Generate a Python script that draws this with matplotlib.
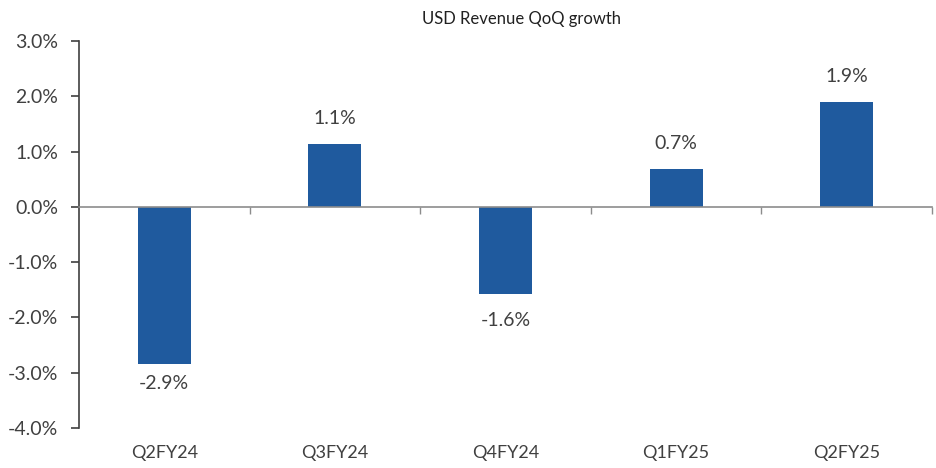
import matplotlib
matplotlib.use("Agg")
import matplotlib.pyplot as plt
from matplotlib.ticker import FuncFormatter

categories = ["Q2FY24", "Q3FY24", "Q4FY24", "Q1FY25", "Q2FY25"]
values = [-2.85, 1.14, -1.57, 0.69, 1.90]
labels = ["-2.9%", "1.1%", "-1.6%", "0.7%", "1.9%"]
yticks = [-4, -3, -2, -1, 0, 1, 2, 3]
title = "USD Revenue QoQ growth"

plt.rcParams['font.family'] = ['Lato', 'DejaVu Sans']
txt = '#404040'
bar_color = '#1F5A9E'
# label offsets (points) as placed in the original
label_offsets = [-14, 18, -19.5, 18, 18.5]

fig = plt.figure(figsize=(9.36, 4.68), dpi=100)
ax = fig.add_axes([79/936, 1-428/468, (932-79)/936, (428-41)/468])

x = list(range(len(categories)))
ax.bar(x, values, width=0.31, color=bar_color, zorder=2)

for xi, v, lab, off in zip(x, values, labels, label_offsets):
    ax.annotate(lab, (xi, v), xytext=(0, off), textcoords='offset points',
                ha='center', va='center', fontsize=14, color=txt)

ax.set_xlim(-0.5, len(categories) - 0.5)
ax.set_ylim(-4, 3)
ax.set_yticks(yticks)
ax.yaxis.set_major_formatter(FuncFormatter(lambda v, p: f"{v:.1f}%"))
ax.tick_params(axis='y', direction='out', length=6, width=1.2, color='#404040',
               labelsize=14, labelcolor=txt, pad=9)

for s in ['top', 'right']:
    ax.spines[s].set_visible(False)
ax.spines['left'].set_color('#404040')
ax.spines['left'].set_linewidth(1.2)
ax.spines['bottom'].set_position(('data', 0))
ax.spines['bottom'].set_color('#8c8c8c')
ax.spines['bottom'].set_linewidth(1.2)
ax.spines['bottom'].set_zorder(3)

# boundary ticks on the zero line
ax.set_xticks([i + 0.5 for i in range(len(categories))])
ax.set_xticklabels([])
ax.tick_params(axis='x', direction='out', length=5, width=1, color='#8c8c8c')

# category labels at the bottom
sec = ax.secondary_xaxis('bottom')
sec.spines['bottom'].set_visible(False)
sec.set_xticks(x)
sec.set_xticklabels(categories)
sec.tick_params(length=0, labelsize=13, labelcolor=txt, pad=12)

ax.set_title(title, fontsize=12, color='#202020', x=(521-79)/853, pad=12)

fig.savefig("out.png", dpi=100)
